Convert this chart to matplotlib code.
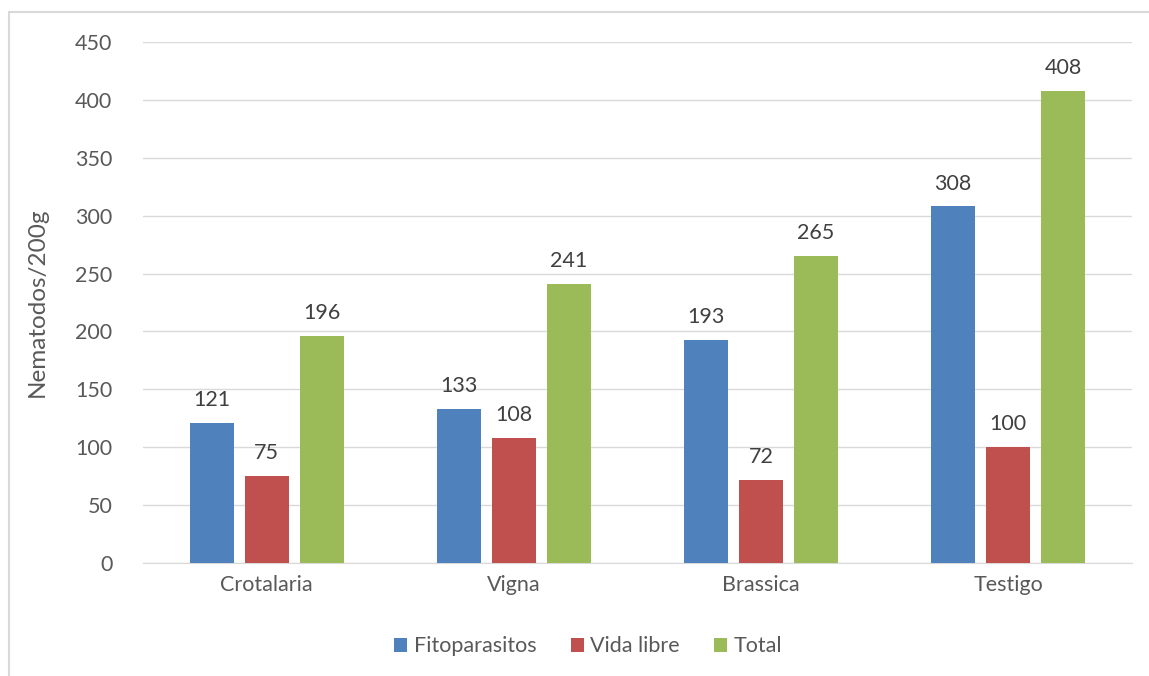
import numpy as np
import matplotlib.pyplot as plt
from matplotlib.patches import Rectangle

# datos
categorias = ['Crotalaria', 'Vigna', 'Brassica', 'Testigo']
fitoparasitos = [121, 133, 193, 308]
vida_libre = [75, 108, 72, 100]
total = [196, 241, 265, 408]

series = [('Fitoparasitos', fitoparasitos, '#4F81BD'),
          ('Vida libre', vida_libre, '#C0504D'),
          ('Total', total, '#9BBB59')]

plt.rcParams['font.family'] = ['Lato', 'DejaVu Sans']
gris = '#595959'

fig = plt.figure(figsize=(11.49, 6.76), dpi=100)
ax = fig.add_axes([0.1245, 0.1672, 0.8605, 0.7707])

x = np.arange(len(categorias))
ancho = 0.178
paso = 0.223
for i, (nombre, valores, color) in enumerate(series):
    pos = x + (i - 1) * paso
    barras = ax.bar(pos, valores, ancho, color=color, label=nombre, zorder=3)
    for b, v in zip(barras, valores):
        ax.text(b.get_x() + b.get_width() / 2, v + 11, str(v), ha='center', va='bottom',
                fontsize=15.5, color='#404040')

ax.set_xlim(-0.5, 3.5)
ax.set_ylim(0, 450)
ax.set_yticks(range(0, 451, 50))
ax.set_xticks(x)
ax.set_xticklabels(categorias)
ax.tick_params(axis='both', length=0, labelsize=15.5, labelcolor=gris)
ax.tick_params(axis='y', pad=22)
ax.tick_params(axis='x', pad=9)
ax.grid(axis='y', color='#D9D9D9', linewidth=1, zorder=0)
for lado in ['top', 'right', 'left']:
    ax.spines[lado].set_visible(False)
ax.spines['bottom'].set_color('#D9D9D9')
ax.set_ylabel('Nematodos/200g', fontsize=17.5, color=gris, labelpad=20)

fig.legend(loc='center', bbox_to_anchor=(0.512, 0.044), ncol=3, frameon=False,
           fontsize=15.5, handlelength=0.6, handleheight=0.6, columnspacing=1.6,
           handletextpad=0.3, labelcolor=gris)

# borde del grafico
fig.add_artist(Rectangle((9 / 1149, -0.01), 1.2, 1 - 12 / 676 + 0.01, transform=fig.transFigure,
                         fill=False, edgecolor='#D9D9D9', linewidth=1.5))

fig.savefig('out.png', dpi=100)
